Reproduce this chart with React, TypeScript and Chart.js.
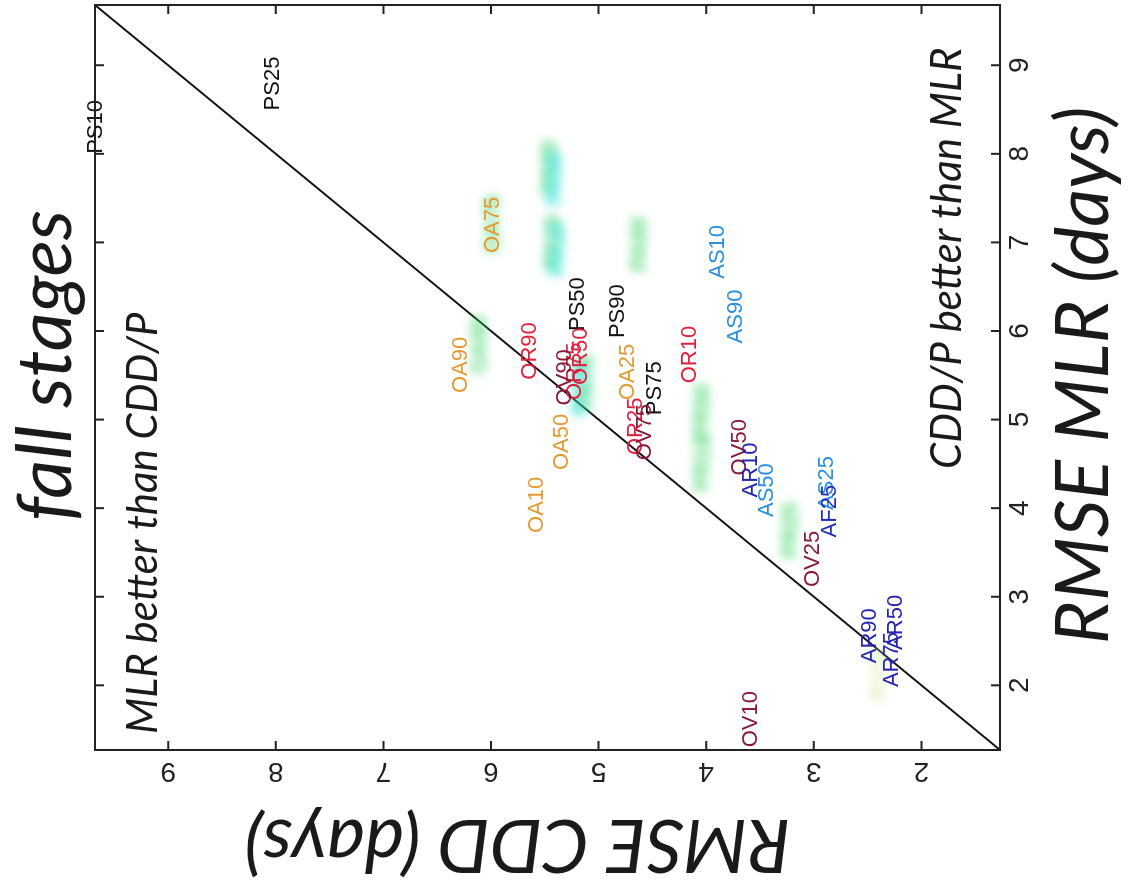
import React, { useEffect, useRef } from 'react';
import { Chart, registerables } from 'chart.js';

Chart.register(...registerables);

// ---- data ----
const AXIS_MIN = 1.27;
const AXIS_MAX = 9.68;
const TICK_VALUES = [2, 3, 4, 5, 6, 7, 8, 9];
const DIAGONAL = [1.27, 9.68];

const TITLE = 'fall stages';
const X_TITLE = 'RMSE MLR (days)';
const Y_TITLE = 'RMSE CDD (days)';
const NOTE_UPPER = 'MLR better than CDD/P';
const NOTE_LOWER = 'CDD/P better than MLR';

const LABELS = [
  'PS10', 'PS25', 'PS50', 'PS75', 'PS90',
  'OA10', 'OA25', 'OA50', 'OA75', 'OA90',
  'OR10', 'OR25', 'OR50', 'OR75', 'OR90',
  'OV10', 'OV25', 'OV50', 'OV75', 'OV90',
  'AS10', 'AS25', 'AS50', 'AS90',
  'AR10', 'AR50', 'AR75', 'AR90',
  'AF25',
];
const MLR = [
  8.0, 8.49, 6.0, 5.05, 5.92,
  3.72, 5.22, 4.43, 6.88, 5.3,
  5.41, 4.6, 5.39, 5.22, 5.45,
  1.3, 3.11, 4.37, 4.54, 5.16,
  6.59, 3.98, 3.9, 5.86,
  4.12, 2.4, 1.98, 2.25,
  3.67,
];
const CDD = [
  9.67, 8.03, 5.19, 4.48, 4.82,
  5.57, 4.73, 5.34, 5.98, 6.28,
  4.15, 4.65, 5.16, 5.22, 5.64,
  3.58, 3.01, 3.69, 4.57, 5.31,
  3.89, 2.88, 3.44, 3.72,
  3.58, 2.24, 2.27, 2.48,
  2.85,
];

// faint, blurred labels in the background
const GHOST_LABELS = ['OA75', 'PA50', 'PA50', 'PA10', 'PA10', 'OA90', 'PA90', 'PR10', 'PR50', 'PR25', 'PA75', 'PV50', 'PV10'];
const GHOST_MLR = [6.88, 7.55, 7.42, 6.7, 6.62, 5.52, 6.68, 4.2, 4.78, 3.44, 5.12, 5.05, 1.83];
const GHOST_CDD = [5.98, 5.45, 5.41, 5.42, 5.38, 6.1, 4.62, 4.03, 4.03, 3.21, 5.11, 5.16, 2.39];
const GHOST_KIND = ['g', 'g', 'c', 'g', 'c', 'g', 'g', 'g', 'g', 'g', 'g', 'c', 'y'];

// ---- styles ----
const PREFIX_COLORS: Record<string, string> = {
  PS: '#111111',
  OA: '#e39a34',
  OR: '#e0203c',
  OV: '#8a1838',
  AS: '#2a8fe0',
  AR: '#2424b0',
  AF: '#2030b8',
};
const GHOST_COLORS: Record<string, string> = {
  g: 'rgba(70, 215, 110, 0.5)',
  c: 'rgba(30, 225, 225, 0.5)',
  y: 'rgba(200, 230, 140, 0.35)',
};

const LABEL_FONT = '22px "Liberation Sans", Arial, sans-serif';
const TICK_FONT = '28px "Liberation Sans", Arial, sans-serif';
const TITLE_FONT = 'italic 76px Lato, "Open Sans", sans-serif';
const AXIS_TITLE_FONT = 'italic 74px Lato, "Open Sans", sans-serif';
const NOTE_FONT = 'italic 42px Lato, "Open Sans", sans-serif';

const overlayPlugin = {
  id: 'overlay',
  beforeDraw(chart: any) {
    const { ctx, width, height } = chart;
    ctx.save();
    ctx.fillStyle = '#ffffff';
    ctx.fillRect(0, 0, width, height);
    ctx.restore();
  },
  afterDatasetsDraw(chart: any) {
    const { ctx } = chart;
    const xs = chart.scales.x;
    const ys = chart.scales.y;
    // ghosts
    ctx.save();
    ctx.font = 'bold ' + LABEL_FONT;
    ctx.textAlign = 'left';
    ctx.textBaseline = 'middle';
    ctx.filter = 'blur(5px)';
    GHOST_LABELS.forEach((t, i) => {
      ctx.fillStyle = GHOST_COLORS[GHOST_KIND[i]];
      const px = xs.getPixelForValue(GHOST_MLR[i]);
      const py = ys.getPixelForValue(GHOST_CDD[i]);
      ctx.fillText(t, px, py);
      ctx.fillText(t, px, py);
    });
    ctx.restore();
    // labels
    ctx.save();
    ctx.font = LABEL_FONT;
    ctx.textAlign = 'left';
    ctx.textBaseline = 'middle';
    LABELS.forEach((t, i) => {
      ctx.fillStyle = PREFIX_COLORS[t.slice(0, 2)] || '#111';
      ctx.fillText(t, xs.getPixelForValue(MLR[i]), ys.getPixelForValue(CDD[i]));
    });
    ctx.restore();
  },
  afterDraw(chart: any) {
    const { ctx, chartArea } = chart;
    const { left, right, top, bottom } = chartArea;
    const xs = chart.scales.x;
    const ys = chart.scales.y;
    ctx.save();
    // box
    ctx.strokeStyle = '#222';
    ctx.lineWidth = 2;
    ctx.strokeRect(left, top, right - left, bottom - top);
    // inner ticks
    ctx.beginPath();
    const tl = 9;
    TICK_VALUES.forEach((v) => {
      const px = xs.getPixelForValue(v);
      ctx.moveTo(px, bottom); ctx.lineTo(px, bottom - tl);
      ctx.moveTo(px, top); ctx.lineTo(px, top + tl);
      const py = ys.getPixelForValue(v);
      ctx.moveTo(left, py); ctx.lineTo(left + tl, py);
      ctx.moveTo(right, py); ctx.lineTo(right - tl, py);
    });
    ctx.stroke();
    // tick labels
    ctx.fillStyle = '#222';
    ctx.font = TICK_FONT;
    ctx.textAlign = 'center';
    ctx.textBaseline = 'middle';
    TICK_VALUES.forEach((v) => {
      ctx.fillText(String(v), xs.getPixelForValue(v), bottom + 20);
    });
    TICK_VALUES.forEach((v) => {
      ctx.save();
      ctx.translate(left - 13, ys.getPixelForValue(v));
      ctx.rotate(-Math.PI / 2);
      ctx.textBaseline = 'alphabetic';
      ctx.fillText(String(v), 0, 0);
      ctx.restore();
    });
    // titles
    ctx.fillStyle = '#1a1a1a';
    ctx.textAlign = 'center';
    ctx.textBaseline = 'middle';
    const cx = (left + right) / 2;
    ctx.font = TITLE_FONT;
    ctx.fillText(TITLE, cx + 12, 46);
    ctx.font = AXIS_TITLE_FONT;
    ctx.fillText(X_TITLE, cx + 2, bottom + 84);
    ctx.save();
    ctx.translate(44, (top + bottom) / 2 - 30);
    ctx.rotate(-Math.PI / 2);
    ctx.fillText(Y_TITLE, 0, 0);
    ctx.restore();
    // notes
    ctx.font = NOTE_FONT;
    ctx.textAlign = 'left';
    ctx.fillText(NOTE_UPPER, xs.getPixelForValue(1.45), ys.getPixelForValue(9.23));
    ctx.textAlign = 'right';
    ctx.fillText(NOTE_LOWER, xs.getPixelForValue(9.2), ys.getPixelForValue(1.76));
    ctx.restore();
  },
};

export default function App() {
  const ref = useRef<HTMLCanvasElement>(null);
  useEffect(() => {
    const canvas = ref.current;
    if (!canvas) return;
    const chart = new Chart(canvas, {
      type: 'scatter',
      data: {
        datasets: [
          {
            type: 'line',
            data: DIAGONAL.map((v) => ({ x: v, y: v })),
            borderColor: '#111',
            borderWidth: 2,
            pointRadius: 0,
            fill: false,
          } as any,
          {
            data: LABELS.map((_, i) => ({ x: MLR[i], y: CDD[i] })),
            pointRadius: 0,
            borderWidth: 0,
          },
        ],
      },
      options: {
        animation: false,
        responsive: false,
        devicePixelRatio: 1,
        layout: { padding: { top: 95, right: 5, left: 0, bottom: 0 } },
        plugins: { legend: { display: false }, tooltip: { enabled: false }, title: { display: false } },
        scales: {
          x: {
            type: 'linear',
            min: AXIS_MIN,
            max: AXIS_MAX,
            grid: { display: false },
            border: { display: false },
            ticks: { display: false },
            afterFit: (s: any) => { s.height = 132; },
          },
          y: {
            type: 'linear',
            min: AXIS_MIN,
            max: AXIS_MAX,
            grid: { display: false },
            border: { display: false },
            ticks: { display: false },
            afterFit: (s: any) => { s.width = 138; },
          },
        },
      },
      plugins: [overlayPlugin],
    });
    return () => chart.destroy();
  }, []);
  return (
    <div style={{ position: 'fixed', left: 0, top: 0, width: 1132, height: 888, overflow: 'hidden', background: '#fff' }}>
      <div
        style={{
          position: 'absolute', left: 0, top: 0, width: 888, height: 1132,
          transformOrigin: '0 0', transform: 'translateY(888px) rotate(-90deg)',
        }}
      >
        <canvas ref={ref} width={888} height={1132} style={{ width: 888, height: 1132, display: 'block' }} />
      </div>
    </div>
  );
}
